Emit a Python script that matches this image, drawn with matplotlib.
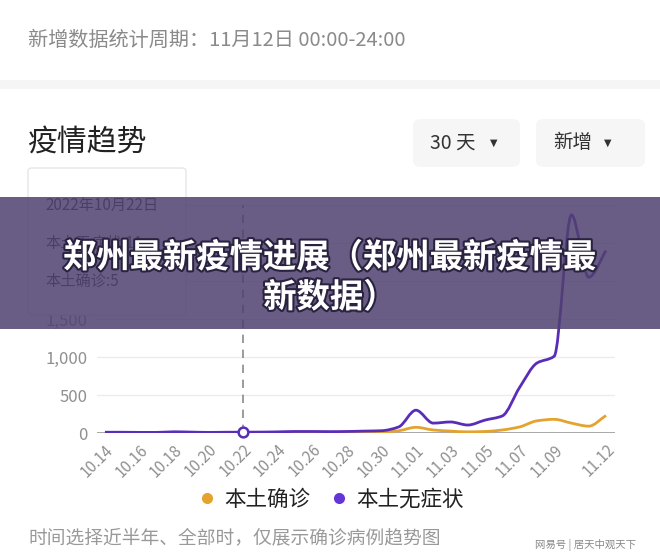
import numpy as np
import matplotlib
matplotlib.use("Agg")
import matplotlib.pyplot as plt
from matplotlib.path import Path
from matplotlib.patches import PathPatch, FancyBboxPatch, Rectangle
from matplotlib.lines import Line2D
import matplotlib.patheffects as pe

plt.rcParams['font.family'] = ['Noto Sans CJK SC', 'DejaVu Sans']

# ---------------- data ----------------
dates = ["10.14", "10.15", "10.16", "10.17", "10.18", "10.19", "10.20", "10.21",
         "10.22", "10.23", "10.24", "10.25", "10.26", "10.27", "10.28", "10.29",
         "10.30", "10.31", "11.01", "11.02", "11.03", "11.04", "11.05", "11.06",
         "11.07", "11.08", "11.09", "11.10", "11.11", "11.12"]
asymptomatic = [10, 10, 8, 8, 16, 12, 8, 10, 11, 12, 15, 20, 20, 18, 20, 25,
                30, 80, 300, 130, 145, 105, 170, 225, 600, 920, 1010, 2870, 2050, 2400]
confirmed = [3, 3, 2, 2, 4, 3, 2, 4, 5, 5, 6, 8, 8, 7, 8, 10,
             12, 30, 75, 40, 25, 15, 20, 40, 80, 160, 180, 130, 90, 230]
xtick_labels = ["10.14", "10.16", "10.18", "10.20", "10.22", "10.24", "10.26", "10.28",
                "10.30", "11.01", "11.03", "11.05", "11.07", "11.09", "11.12"]
yticks = [0, 500, 1000, 1500, 2000, 2500, 3000]
highlight_date = "10.22"

C_CONF = "#E3A32E"
C_ASYM = "#5A2DB8"

W, H = 660, 557
fig = plt.figure(figsize=(W / 100, H / 100), dpi=100)
fig.patch.set_facecolor("white")


def fx(px):
    return px / W


def fy(py):
    return 1 - py / H


def smooth_path(xs, ys):
    xs = np.asarray(xs, float)
    ys = np.asarray(ys, float)
    n = len(xs)
    h = np.diff(xs)
    d = np.diff(ys) / h
    m = np.zeros(n)
    m[0], m[-1] = d[0], d[-1]
    for k in range(1, n - 1):
        if d[k - 1] * d[k] <= 0:
            m[k] = 0
        else:
            w1 = 2 * h[k] + h[k - 1]
            w2 = h[k] + 2 * h[k - 1]
            m[k] = (w1 + w2) / (w1 / d[k - 1] + w2 / d[k])
    verts = [(xs[0], ys[0])]
    codes = [Path.MOVETO]
    for k in range(n - 1):
        verts += [(xs[k] + h[k] / 3, ys[k] + m[k] * h[k] / 3),
                  (xs[k + 1] - h[k] / 3, ys[k + 1] - m[k + 1] * h[k] / 3),
                  (xs[k + 1], ys[k + 1])]
        codes += [Path.CURVE4] * 3
    return Path(verts, codes)


# ---------------- header texts ----------------
fig.text(fx(28), fy(40), "新增数据统计周期：11月12日 00:00-24:00", fontsize=14.5,
         color="#8a8a8a", va="center", ha="left")
fig.patches.append(Rectangle((0, fy(89)), 1, (89 - 80) / H, transform=fig.transFigure,
                             facecolor="#f5f5f5", edgecolor="none"))
fig.text(fx(28), fy(143), "疫情趋势", fontsize=21.5, color="#222222", va="center", ha="left")

for (x0, x1, label, tri_x) in [(413, 520, "30 天", 490), (536, 645, "新增", 604)]:
    fig.patches.append(FancyBboxPatch((fx(x0), fy(167)), fx(x1 - x0), (167 - 119) / H,
                                      boxstyle="round,pad=0,rounding_size=0.012",
                                      transform=fig.transFigure, facecolor="#f6f6f6",
                                      edgecolor="none"))
    fig.text(fx(x0 + 17), fy(143), label, fontsize=14, color="#333333", va="center", ha="left")
    fig.text(fx(tri_x), fy(143), "▼", fontsize=7, color="#333333", va="center",
             ha="left", family=["DejaVu Sans"])

# ---------------- chart ----------------
ax = fig.add_axes([fx(97), fy(433), fx(615 - 97), (433 - 205) / H])
x = np.arange(len(dates))
ax.set_xlim(-0.46, 29.52)
ax.set_ylim(0, 3000)
for s in ax.spines.values():
    s.set_visible(False)
ax.set_yticks(yticks)
ax.set_yticklabels([f"{v:,}" for v in yticks])
ax.tick_params(axis="y", length=0, pad=7, labelsize=12, labelcolor="#8f8f8f")
for v in yticks[1:]:
    ax.axhline(v, color="#ececec", lw=1, zorder=0)
ax.axhline(0, color="#9a9a9a", lw=1.2, zorder=1)

ax.set_xticks([dates.index(l) for l in xtick_labels])
ax.set_xticklabels(xtick_labels, rotation=45, ha="right", rotation_mode="anchor")
ax.tick_params(axis="x", length=0, pad=6, labelsize=11, labelcolor="#8f8f8f")

ax.add_patch(PathPatch(smooth_path(x, confirmed), facecolor="none", edgecolor=C_CONF,
                       lw=2, zorder=3))
ax.add_patch(PathPatch(smooth_path(x, asymptomatic), facecolor="none", edgecolor=C_ASYM,
                       lw=2, zorder=4))

hi = dates.index(highlight_date)
ax.axvline(hi, ymin=0, ymax=1, color="#8a8a8a", lw=1.2, ls=(0, (5, 4)), zorder=2)
ax.plot([hi], [asymptomatic[hi]], marker="o", ms=7, mfc="white", mec=C_ASYM, mew=1.8,
        zorder=5, clip_on=False)

# tooltip
fig.patches.append(FancyBboxPatch((fx(28), fy(315)), fx(186 - 28), (315 - 168) / H,
                                  boxstyle="round,pad=0,rounding_size=0.006",
                                  transform=fig.transFigure, facecolor="white",
                                  edgecolor="#e6e6e6", lw=1, zorder=6))
fig.text(fx(45), fy(205), "2022年10月22日", fontsize=11, color="#333333", va="center", zorder=7)
fig.text(fx(45), fy(243), "本土无症状:11", fontsize=11, color="#333333", va="center", zorder=7)
fig.text(fx(45), fy(281), "本土确诊:5", fontsize=11, color="#333333", va="center", zorder=7)

# legend
handles = [Line2D([], [], ls="none", marker="o", ms=8, color=C_CONF, mec="none"),
           Line2D([], [], ls="none", marker="o", ms=8, color="#6536D6", mec="none")]
fig.legend(handles, ["本土确诊", "本土无症状"], loc="center", bbox_to_anchor=(fx(330), fy(500)),
           ncol=2, frameon=False, fontsize=15.5, handletextpad=0.3, columnspacing=0.8,
           handlelength=1.0, labelcolor="#222222")

fig.text(fx(28), fy(538), "时间选择近半年、全部时，仅展示确诊病例趋势图", fontsize=13.5,
         color="#999999", va="center", ha="left")
fig.text(fx(535), fy(545), "网易号 | 居天中观天下", fontsize=7.5, color="#888888",
         va="center", ha="left")

# overlay banner
fig.patches.append(Rectangle((0, fy(329)), 1, (329 - 197) / H, transform=fig.transFigure,
                             facecolor=(0.313, 0.253, 0.441), alpha=0.85, edgecolor="none",
                             zorder=10))
stroke = [pe.withStroke(linewidth=3, foreground="#2a2340")]
fig.text(0.5, fy(258), "郑州最新疫情进展（郑州最新疫情最", fontsize=24, weight="heavy",
         color="white", ha="center", va="center", zorder=11, path_effects=stroke)
fig.text(0.5, fy(298), "新数据）", fontsize=24, weight="heavy",
         color="white", ha="center", va="center", zorder=11, path_effects=stroke)

fig.savefig("out.png", dpi=100, facecolor="white")
